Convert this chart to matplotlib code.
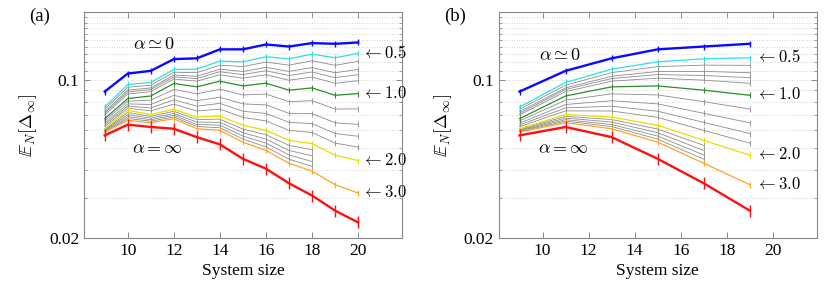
import matplotlib
matplotlib.use('Agg')
import matplotlib.pyplot as plt
from matplotlib.ticker import FixedLocator, NullFormatter

plt.rcParams['font.family'] = 'serif'
plt.rcParams['font.serif'] = ['Liberation Serif', 'DejaVu Serif']
plt.rcParams['mathtext.fontset'] = 'cm'

# system sizes of panel (a); panel (b) uses the odd ones
sizes = [9, 10, 11, 12, 13, 14, 15, 16, 17, 18, 19, 20]

alpha_0 = [0.089, 0.107, 0.110, 0.124, 0.125, 0.137, 0.137, 0.144, 0.141, 0.146, 0.145, 0.147]
alpha_05 = [0.076, 0.0957, 0.0977, 0.1116, 0.1119, 0.1215, 0.1206, 0.127, 0.1244, 0.1305, 0.1257, 0.1315]
alpha_06 = [0.0743, 0.0930, 0.0950, 0.1084, 0.1080, 0.1166, 0.1149, 0.1203, 0.1166, 0.1219, 0.1164, 0.1212]
alpha_07 = [0.0725, 0.0904, 0.0924, 0.1054, 0.1041, 0.1119, 0.1093, 0.1140, 0.1094, 0.1137, 0.1079, 0.1116]
alpha_08 = [0.0713, 0.0887, 0.0909, 0.1034, 0.1017, 0.1090, 0.1059, 0.1101, 0.1049, 0.1087, 0.1026, 0.1058]
alpha_09 = [0.0701, 0.0868, 0.0890, 0.1012, 0.0990, 0.1057, 0.1021, 0.1057, 0.1000, 0.1032, 0.0969, 0.0995]
alpha_10 = [0.0675, 0.0829, 0.0851, 0.0967, 0.0934, 0.099, 0.0943, 0.097, 0.0903, 0.0924, 0.0857, 0.0872]
alpha_12 = [0.0660, 0.0807, 0.0815, 0.0910, 0.0870, 0.0912, 0.0860, 0.0868, 0.0803, 0.0811, 0.0745, 0.0746]
alpha_14 = [0.0645, 0.0785, 0.0780, 0.0857, 0.0811, 0.0840, 0.0785, 0.0777, 0.0713, 0.0711, 0.0647, 0.0637]
alpha_16 = [0.0633, 0.0768, 0.0753, 0.0818, 0.0767, 0.0789, 0.0728, 0.0712, 0.0650, 0.0642, 0.0580, 0.0564]
alpha_18 = [0.0622, 0.0752, 0.0731, 0.0783, 0.0730, 0.0744, 0.0684, 0.0660, 0.0599, 0.0586, 0.0526, 0.0505]
alpha_20 = [0.0609, 0.0735, 0.0704, 0.0743, 0.0686, 0.0693, 0.0631, 0.0599, 0.0541, 0.0523, 0.0465, 0.044]
# these four only go up to N=18
alpha_22 = [0.0605, 0.0719, 0.0691, 0.0728, 0.0669, 0.0672, 0.0607, 0.0573, 0.0514, 0.0492]
alpha_24 = [0.0600, 0.0703, 0.0679, 0.0712, 0.0652, 0.0650, 0.0585, 0.0548, 0.0488, 0.0462]
alpha_26 = [0.0596, 0.0689, 0.0668, 0.0699, 0.0636, 0.0632, 0.0565, 0.0526, 0.0466, 0.0436]
alpha_28 = [0.0592, 0.0676, 0.0658, 0.0687, 0.0623, 0.0615, 0.0548, 0.0506, 0.0446, 0.0415]
alpha_30 = [0.0589, 0.0664, 0.0648, 0.0675, 0.0609, 0.0599, 0.0531, 0.0488, 0.0428, 0.0395, 0.0344, 0.0316]
alpha_inf = [0.0569, 0.0635, 0.062, 0.0609, 0.0559, 0.0519, 0.0448, 0.0405, 0.0349, 0.0308, 0.0264, 0.0234]

gray_lines = [alpha_06, alpha_07, alpha_08, alpha_09, alpha_12, alpha_14, alpha_16, alpha_18,
              alpha_22, alpha_24, alpha_26, alpha_28]
colored = [(alpha_05, '#30e0e0', '0.5'), (alpha_10, '#2e8b2e', '1.0'),
           (alpha_20, '#e6de00', '2.0'), (alpha_30, '#ffa424', '3.0')]

fig = plt.figure(figsize=(8.3, 2.9), dpi=100)
ax_a = fig.add_axes([0.1012, 0.180, 0.383, 0.7776])
ax_b = fig.add_axes([0.601, 0.180, 0.3828, 0.7776])


def draw(ax, step, lab_x, a0_pos):
    for g in gray_lines:
        xs = sizes[:len(g)][::step]
        ax.plot(xs, g[::step], color='#8c8c8c', lw=0.6, marker='|', ms=5, mew=0.6)
    for vals, c, lab in colored:
        ax.plot(sizes[::step], vals[::step], color=c, lw=0.9, marker='|', ms=5, mew=0.8)
        ax.text(lab_x, vals[::step][-1], r'$\leftarrow' + lab + '$',
                fontsize=12, ha='left', va='center')
    ax.plot(sizes[::step], alpha_0[::step], color='#0a0aff', lw=1.7, marker='|', ms=4, mew=1.0)
    ax.plot(sizes[::step], alpha_inf[::step], color='#ff1010', lw=1.7, marker='|', ms=8, mew=1.0)
    ax.text(a0_pos[0], a0_pos[1], r'$\alpha\simeq 0$', fontsize=13, ha='center', va='center')
    ax.text(a0_pos[2], 0.0498, r'$\alpha=\infty$', fontsize=13, ha='center', va='center')

    ax.set_yscale('log')
    ax.set_ylim(0.02, 0.2)
    ax.set_xlim(8.1, 21.9)
    ax.set_xticks([10, 12, 14, 16, 18, 20])
    ax.yaxis.set_major_locator(FixedLocator([0.02, 0.1]))
    ax.set_yticklabels(['0.02', '0.1'])
    ax.yaxis.set_minor_locator(FixedLocator([i / 100 for i in range(3, 21) if i != 10]))
    ax.yaxis.set_minor_formatter(NullFormatter())
    ax.grid(True, axis='y', which='both', ls=(0, (1, 2)), color='#c8c8c8', lw=0.6)
    ax.tick_params(which='both', direction='in', top=True, right=True, colors='#777777',
                   labelcolor='black', labelsize=12.5)
    ax.tick_params(which='major', length=4, width=0.6)
    ax.tick_params(which='minor', length=2, width=0.5)
    for s in ax.spines.values():
        s.set_color('#888888')
        s.set_linewidth(0.8)
    ax.set_xlabel('System size', fontsize=12.5, labelpad=3)
    ax.set_ylabel(r'$\mathbb{E}_N[\Delta_\infty]$', fontsize=13, labelpad=7)


draw(ax_a, 1, 20.15, (11.14, 0.144, 11.3))
draw(ax_b, 2, 19.25, (10.77, 0.129, 10.9))

fig.text(40 / 830, 1 - 16 / 290, '(a)', fontsize=13.5, ha='center', va='center')
fig.text(455 / 830, 1 - 16 / 290, '(b)', fontsize=13.5, ha='center', va='center')

fig.savefig('out.png', dpi=100)
